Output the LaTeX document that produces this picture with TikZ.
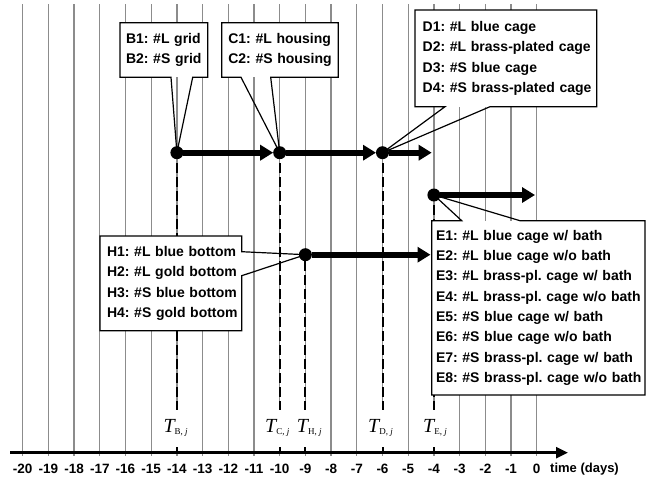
\documentclass[tikz,border=0pt]{standalone}
\usepackage{fontspec}
\setmainfont{Liberation Sans}
\newfontfamily\serifT{Liberation Serif}
\usetikzlibrary{arrows.meta}
\pgfdeclarelayer{gridlayer}
\pgfdeclarelayer{linelayer}
\pgfdeclarelayer{boxlayer}
\pgfsetlayers{gridlayer,linelayer,boxlayer,main}
\frenchspacing
\newcommand\bxl[1]{\mbox{#1}}
\newcommand\tsub[2]{{\serifT\fontsize{20}{20}\selectfont\itshape T}\raisebox{-2.5pt}{\serifT\fontsize{9}{9}\selectfont #1, \itshape #2}}
\tikzset{
  gridline/.style={draw=black!45, line width=1.3pt},
  evline/.style={line width=2pt, dash pattern=on 10pt off 4pt},
  evdot/.style={circle, fill=black, minimum size=13pt, inner sep=0pt, outer sep=0pt},
  flow/.style={line width=6pt, -{Triangle[length=13pt,width=15pt]}},
  infobox/.style={fill=white, anchor=north west, align=left, inner ysep=0pt, outer sep=0pt,
    font=\bfseries\fontsize{14}{20.3}\selectfont},
  boxline/.style={line width=1.2pt, line join=miter},
  tlabel/.style={fill=white, anchor=base west, inner xsep=1pt, inner ysep=1pt, text height=21pt, text depth=14pt},
  ticklabel/.style={font=\bfseries\fontsize{13.5}{13.5}\selectfont, inner sep=0pt},
  axisline/.style={line width=2.5pt, -{Triangle[length=12pt,width=11pt]}}
}
\begin{document}
\begin{tikzpicture}[x=1pt,y=-1pt]
\useasboundingbox (0,0) rectangle (656,482);

% event points
\node[evdot] (B) at (176.9,152.7) {};
\node[evdot] (C) at (279.7,152.7) {};
\node[evdot] (D) at (382.5,152.7) {};
\node[evdot] (E) at (433.9,195) {};
\node[evdot] (H) at (305.4,254.7) {};
\coordinate (Dend) at (431.7,152.7);
\coordinate (Eend) at (535,195);
\coordinate (Hend) at (430.5,254.7);

% axis feet
\coordinate (Bax) at (176.9,452.7);
\coordinate (Cax) at (279.7,452.7);
\coordinate (Dax) at (382.5,452.7);
\coordinate (Eax) at (433.9,452.7);
\coordinate (Hax) at (305.4,452.7);
\coordinate (axL) at (10,452.7);
\coordinate (axR) at (568,452.7);

\begin{pgfonlayer}{gridlayer}
\foreach \d in {-20,...,0}
  \draw[gridline] ({536.7+25.7*\d},4.3) -- ({536.7+25.7*\d},456);
\end{pgfonlayer}

\begin{pgfonlayer}{linelayer}
\draw[evline] (Bax) -- (B);
\draw[evline] (Cax) -- (C);
\draw[evline] (Dax) -- (D);
\draw[evline] (Eax) -- (E);
\draw[evline] (Hax) -- (H);
\node[tlabel] (TB) at (162.3,432) {\tsub{B}{j}};
\node[tlabel] (TC) at (264,432) {\tsub{C}{j}};
\node[tlabel] (TH) at (295.7,432) {\tsub{H}{j}};
\node[tlabel] (TD) at (367,432) {\tsub{D}{j}};
\node[tlabel] (TE) at (422,432) {\tsub{E}{j}};
\draw[axisline] (axL) -- (axR);
\end{pgfonlayer}

\begin{pgfonlayer}{boxlayer}
\node[infobox, inner xsep=6pt, text width=75.7pt, minimum height=54.6pt] (Bbox) at (120,22.7)
  {\bxl{B1: \#L grid}\\\bxl{B2: \#S grid}};
\draw[boxline] ([xshift=51pt]Bbox.south west) -- (B.center) -- ([xshift=72.7pt]Bbox.south west)
  -- (Bbox.south east) -- (Bbox.north east) -- (Bbox.north west) -- (Bbox.south west) -- cycle;

\node[infobox, inner xsep=6.6pt, text width=103.4pt, minimum height=54.6pt] (Cbox) at (221.7,22.7)
  {\bxl{C1: \#L housing}\\\bxl{C2: \#S housing}};
\draw[boxline] ([xshift=19.3pt]Cbox.south west) -- (C.center) -- ([xshift=49pt]Cbox.south west)
  -- (Cbox.south east) -- (Cbox.north east) -- (Cbox.north west) -- (Cbox.south west) -- cycle;

\node[infobox, inner xsep=7.7pt, text width=166.3pt, minimum height=96.7pt] (Dbox) at (415,10)
  {\bxl{D1: \#L blue cage}\\\bxl{D2: \#L brass-plated cage}\\\bxl{D3: \#S blue cage}\\\bxl{D4: \#S brass-plated cage}};
\draw[boxline] ([xshift=30pt]Dbox.south west) -- (D.center) -- ([xshift=75pt]Dbox.south west)
  -- (Dbox.south east) -- (Dbox.north east) -- (Dbox.north west) -- (Dbox.south west) -- cycle;

\node[infobox, inner xsep=4.3pt, text width=204.7pt, minimum height=174.3pt] (Ebox) at (431.7,220.7)
  {\bxl{E1: \#L blue cage w/ bath}\\\bxl{E2: \#L blue cage w/o bath}\\\bxl{E3: \#L brass-pl. cage w/ bath}\\\bxl{E4: \#L brass-pl. cage w/o bath}\\
   \bxl{E5: \#S blue cage w/ bath}\\\bxl{E6: \#S blue cage w/o bath}\\\bxl{E7: \#S brass-pl. cage w/ bath}\\\bxl{E8: \#S brass-pl. cage w/o bath}};
\draw[boxline] ([xshift=30pt]Ebox.north west) -- (E.center) -- ([xshift=88.3pt]Ebox.north west)
  -- (Ebox.north east) -- (Ebox.south east) -- (Ebox.south west) -- (Ebox.north west) -- cycle;

\node[infobox, inner xsep=7pt, text width=127.7pt, minimum height=94.7pt] (Hbox) at (100,236)
  {\bxl{H1: \#L blue bottom}\\\bxl{H2: \#L gold bottom}\\\bxl{H3: \#S blue bottom}\\\bxl{H4: \#S gold bottom}};
\draw[boxline] ([yshift=-15.7pt]Hbox.north east) -- (H.center) -- ([yshift=-39.7pt]Hbox.north east)
  -- (Hbox.south east) -- (Hbox.south west) -- (Hbox.north west) -- (Hbox.north east) -- cycle;
\end{pgfonlayer}

% flows
\draw[flow] (B) -- (C);
\draw[flow] (C) -- (D);
\draw[flow] (D) -- (Dend);
\draw[flow] (E) -- (Eend);
\draw[flow] (H) -- (Hend);

% tick labels
\foreach \d in {-20,...,0}
  \node[ticklabel] (t\d) at ({536.7+25.7*\d},469) {\d};
\node[ticklabel, anchor=west, font=\bfseries\fontsize{13}{13}\selectfont] (tlab) at (550,469) {time (days)};
\end{tikzpicture}
\end{document}
